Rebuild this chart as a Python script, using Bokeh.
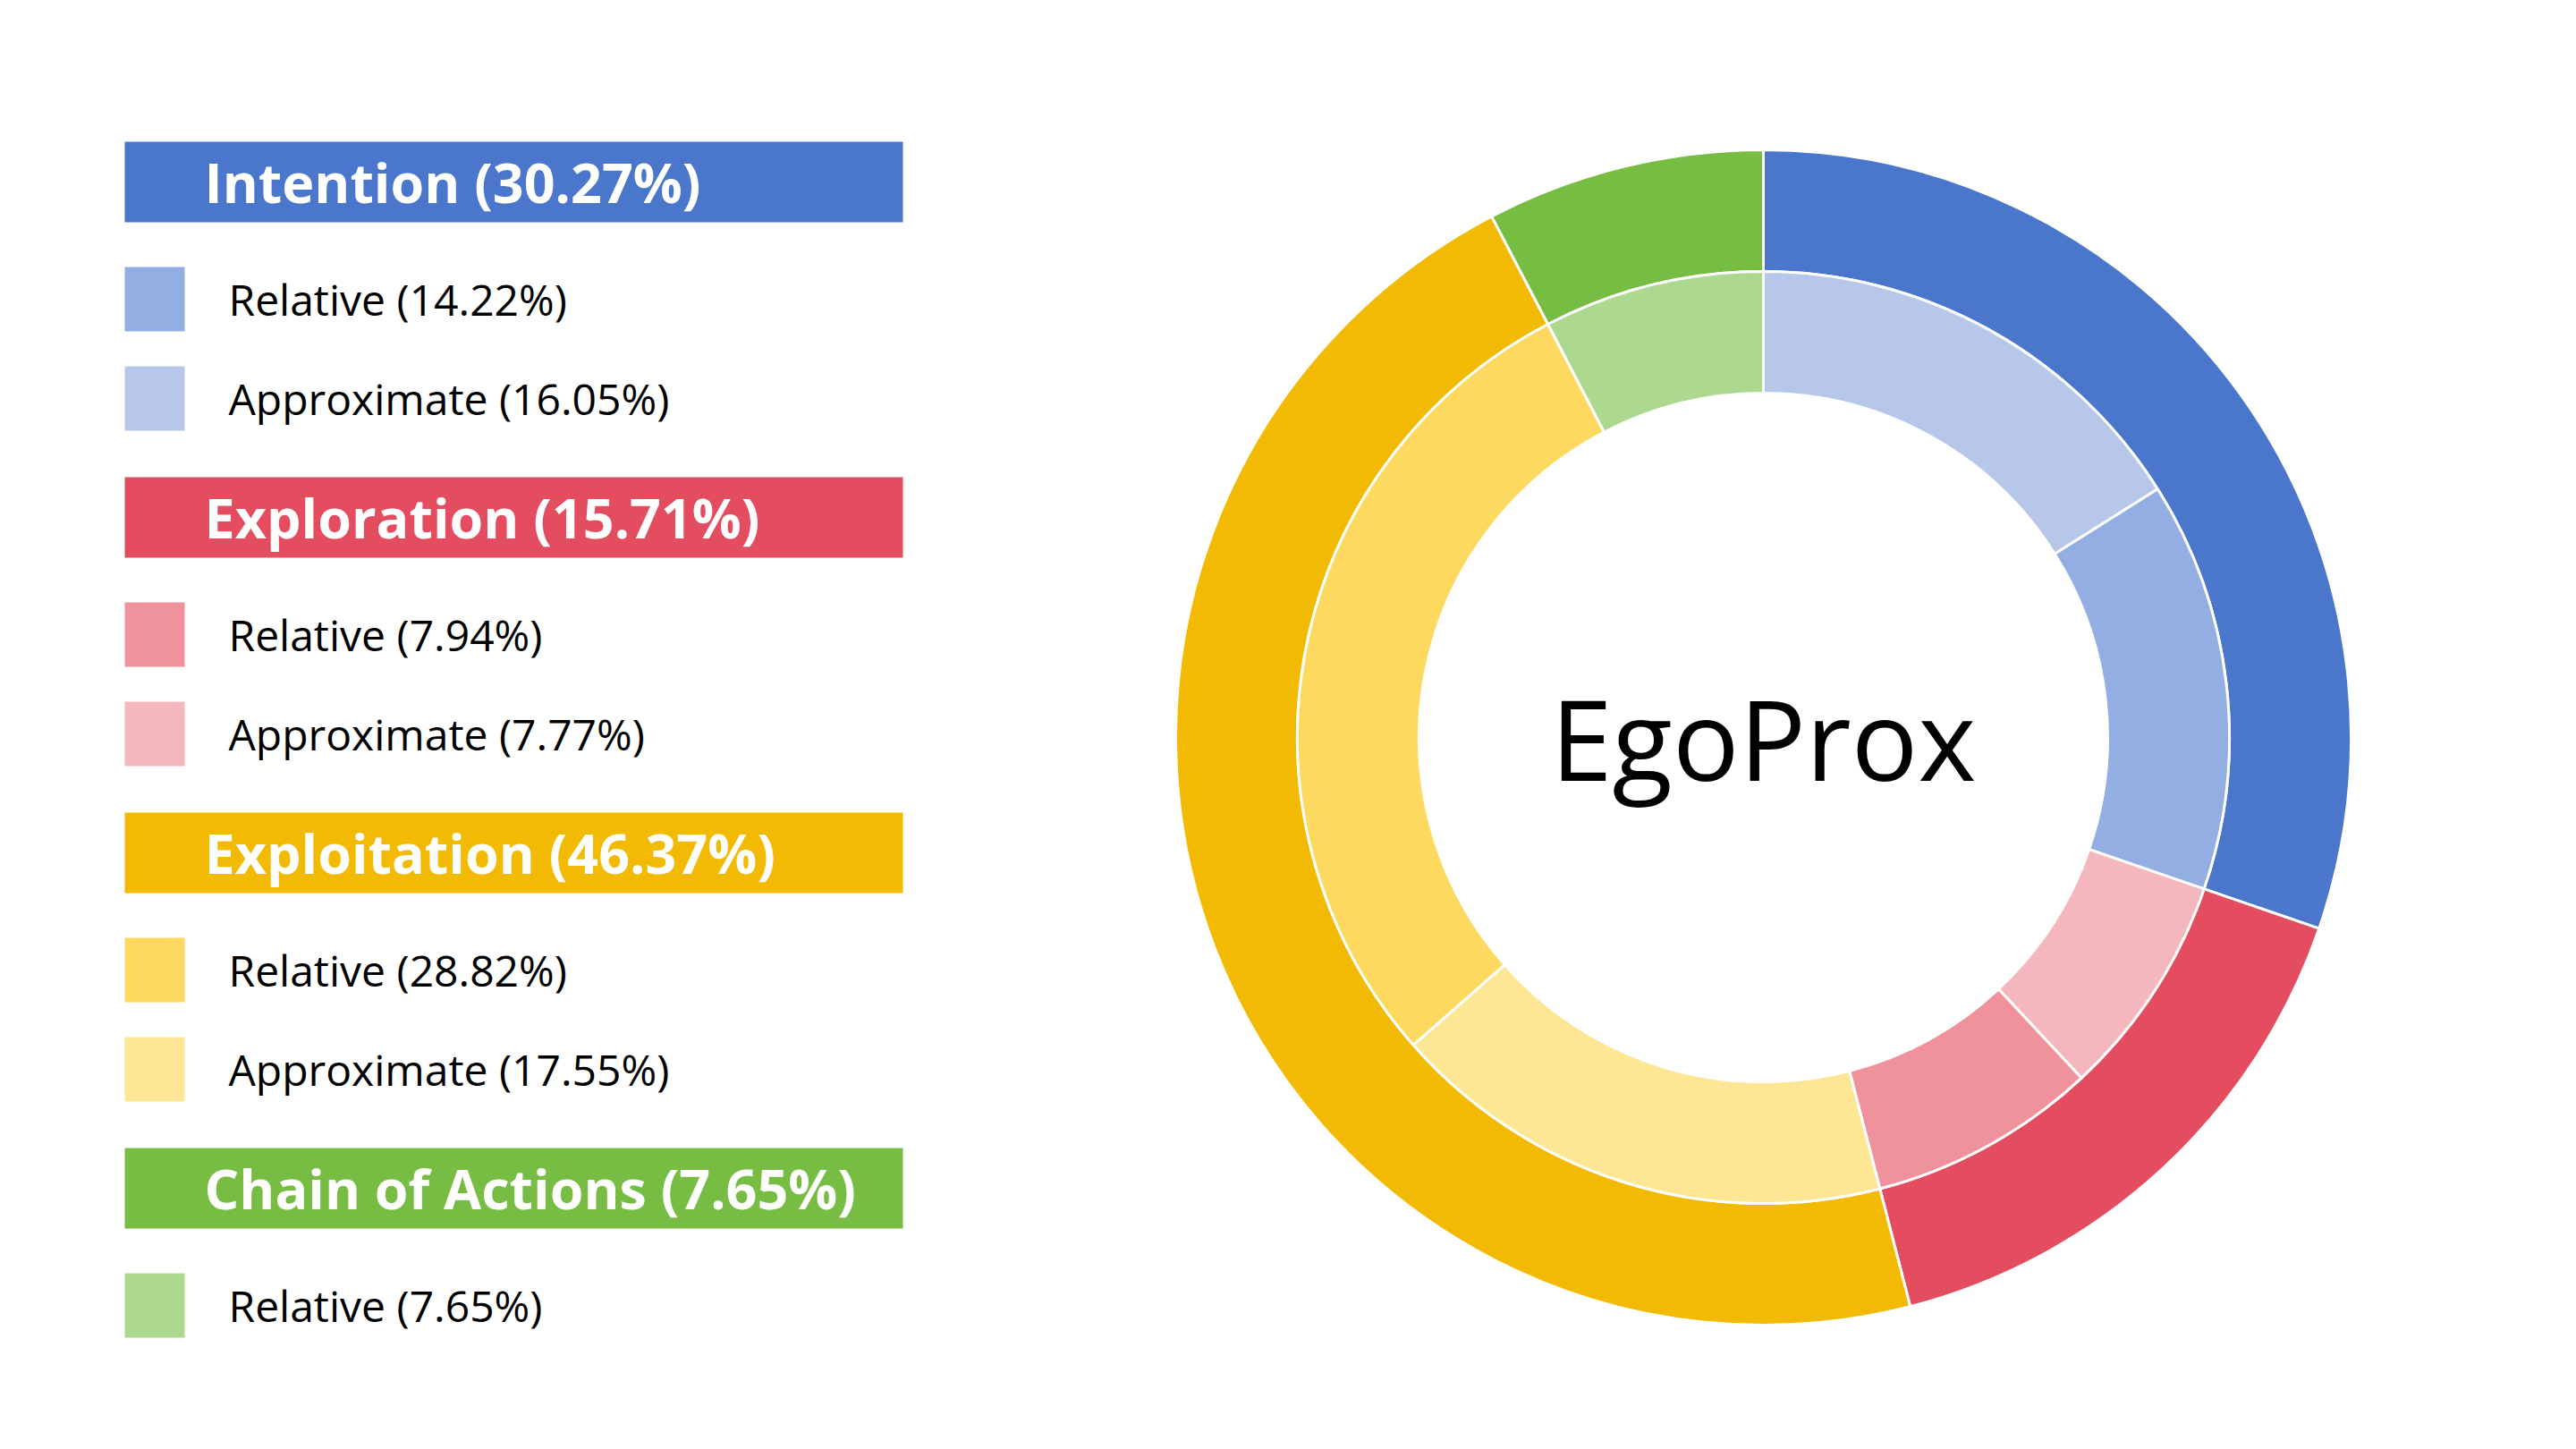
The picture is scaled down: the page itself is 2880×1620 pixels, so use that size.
import numpy as np

from bokeh.core.properties import value
from bokeh.embed import file_html
from bokeh.models import Range1d
from bokeh.plotting import figure
from bokeh.resources import INLINE

# ---- data ----
categories = ['Intention', 'Exploration', 'Exploitation', 'Chain of Actions']
category_pct = [30.27, 15.71, 46.37, 7.65]
sub_labels = [['Relative', 'Approximate'],
              ['Relative', 'Approximate'],
              ['Relative', 'Approximate'],
              ['Relative']]
sub_pct = [[14.22, 16.05],
           [7.94, 7.77],
           [28.82, 17.55],
           [7.65]]
center_title = 'EgoProx'

# ---- styles ----
main_colors = ['#4A76CC', '#E44D5F', '#F2BA02', '#77BC43']
sub_colors = [['#93AEE2', '#B7C7E9'],
              ['#F0929C', '#F4B7BE'],
              ['#FDD960', '#FDE694'],
              ['#ADD88F']]
font = value('Open Sans')

W, H = 2880, 1620


def ty(y):
    """reference pixel row (top down) -> data y (bottom up)"""
    return H - y


p = figure(width=2864, height=1604, x_range=Range1d(8, W - 8), y_range=Range1d(8, H - 8),
           output_backend="svg", toolbar_location=None, tools='',
           x_axis_location=None, y_axis_location=None, min_border=0)
p.grid.grid_line_color = None
p.outline_line_color = None
p.background_fill_color = 'white'

# ---- donut ----
cx, cy = 1979, ty(832)
r_outer, r_mid, r_inner = 657, 521, 385

cum = np.concatenate([[0], np.cumsum(category_pct)]) / 100.0
p.annular_wedge(x=cx, y=cy, inner_radius=r_mid, outer_radius=r_outer,
                start_angle=np.pi / 2 - cum[1:] * 2 * np.pi,
                end_angle=np.pi / 2 - cum[:-1] * 2 * np.pi,
                fill_color=main_colors, line_color='white', line_width=3)

# inner ring goes clockwise Approximate -> Relative inside each category
inner_vals, inner_cols = [], []
for vals, cols in zip(sub_pct, sub_colors):
    inner_vals += vals[::-1]
    inner_cols += cols[::-1]
icum = np.concatenate([[0], np.cumsum(inner_vals)]) / 100.0
p.annular_wedge(x=cx, y=cy, inner_radius=r_inner, outer_radius=r_mid,
                start_angle=np.pi / 2 - icum[1:] * 2 * np.pi,
                end_angle=np.pi / 2 - icum[:-1] * 2 * np.pi,
                fill_color=inner_cols, line_color='white', line_width=3)

p.text(x=[cx], y=[cy], text=[center_title], text_font=font, text_font_size='124px',
       text_color='black', text_align='center', text_baseline='middle')

# ---- legend blocks on the left ----
left, right = 147, 1017
header_h = 90
swatch_w, swatch_h = 67, 72
first_gap, item_step, section_gap = 140, 111, 124

top = 166
hdr_t, hdr_b, hdr_y, hdr_txt = [], [], [], []
sw_t, sw_b, sw_c, it_y, it_txt = [], [], [], [], []
for i, name in enumerate(categories):
    hdr_t.append(ty(top))
    hdr_b.append(ty(top + header_h))
    hdr_y.append(ty(top + header_h / 2))
    hdr_txt.append('{} ({:.2f}%)'.format(name, category_pct[i]))
    row = top + first_gap
    for lab, v, col in zip(sub_labels[i], sub_pct[i], sub_colors[i]):
        sw_t.append(ty(row))
        sw_b.append(ty(row + swatch_h))
        sw_c.append(col)
        it_y.append(ty(row + swatch_h / 2))
        it_txt.append('{} ({:.2f}%)'.format(lab, v))
        row += item_step
    top = row - item_step + section_gap

n_hdr, n_it = len(hdr_t), len(sw_t)
p.quad(left=[left] * n_hdr, right=[right] * n_hdr, top=hdr_t, bottom=hdr_b,
       fill_color=main_colors, line_color=None)
p.text(x=[left + 89] * n_hdr, y=hdr_y, text=hdr_txt, text_font=font, text_font_size='61px',
       text_font_style='bold', text_color='white', text_baseline='middle')

p.quad(left=[left] * n_it, right=[left + swatch_w] * n_it, top=sw_t, bottom=sw_b,
       fill_color=sw_c, line_color=None)
p.text(x=[left + 116] * n_it, y=it_y, text=it_txt, text_font=font, text_font_size='48px',
       text_color='black', text_baseline='middle')

open("out.html", "w").write(file_html(p, INLINE))
